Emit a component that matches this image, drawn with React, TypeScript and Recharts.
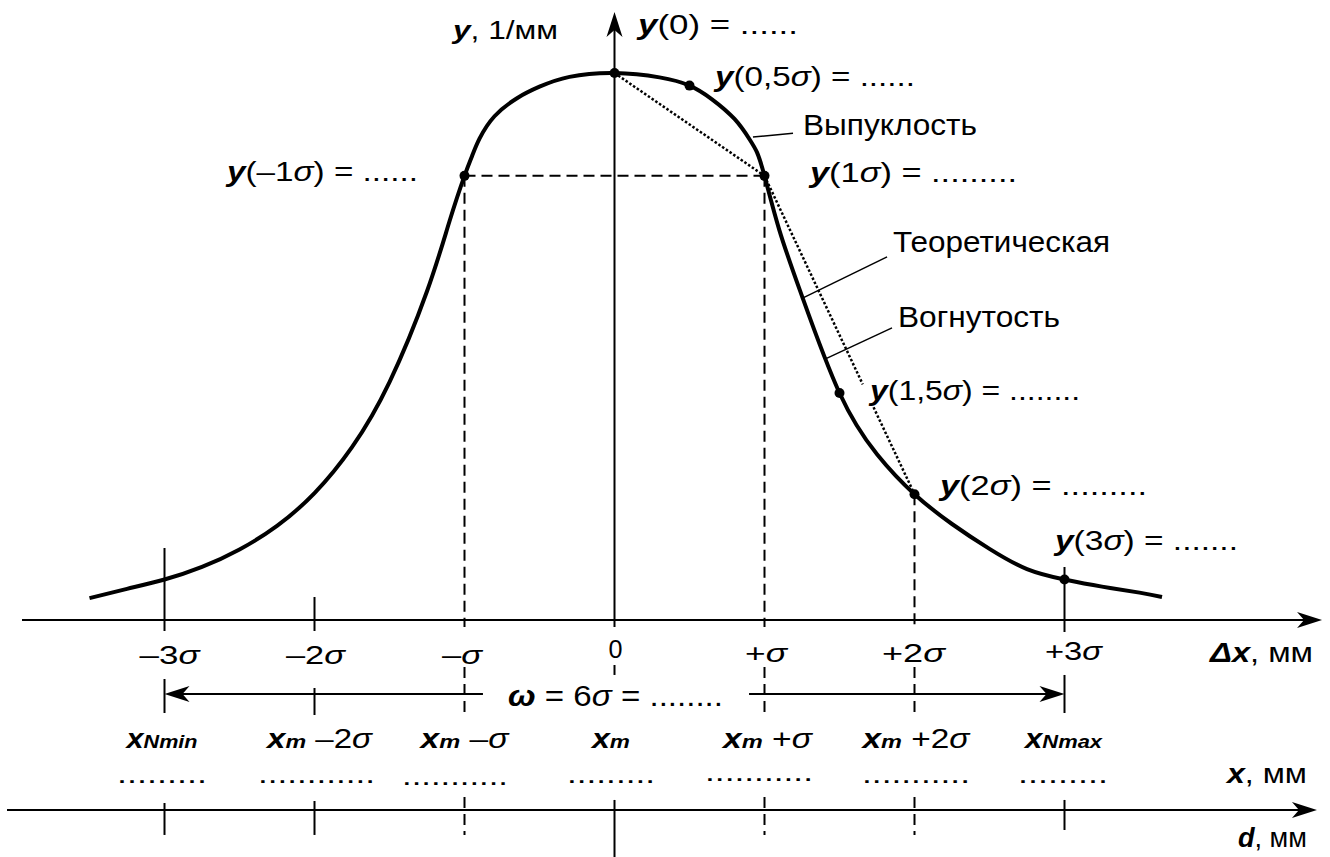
import React from "react";
import { ComposedChart, Line, Scatter, XAxis, YAxis, ReferenceLine, ReferenceDot } from "recharts";

// Δx, in units of σ
const SIGMA_POS = [
  -3.5, -3.25, -3, -2.75, -2.5, -2.25, -2, -1.75, -1.5, -1.25, -1.1, -1, -0.95, -0.9, -0.8, -0.65, -0.5, -0.3,
  0, 0.3, 0.5, 0.65, 0.8, 0.9, 0.95, 1, 1.1, 1.25, 1.5, 1.75, 2, 2.25, 2.5, 2.75, 3, 3.25, 3.5, 3.65,
];
// y relative to y(0)
const Y_REL = [
  0.04, 0.057, 0.074, 0.097, 0.129, 0.172, 0.232, 0.316, 0.435, 0.601, 0.729, 0.812, 0.848, 0.88, 0.921, 0.954, 0.975, 0.993,
  1.0, 0.992, 0.977, 0.952, 0.916, 0.879, 0.855, 0.812, 0.712, 0.592, 0.415, 0.303, 0.23, 0.1755, 0.13, 0.093, 0.074, 0.061, 0.05, 0.042,
];
const MARKED = [-1, 0, 0.5, 1, 1.5, 2, 3];
const TICK_POS = [-3, -2, -1, 0, 1, 2, 3];
const TICK_TEXT = ["–3σ", "–2σ", "–σ", "0", "+σ", "+2σ", "+3σ"];
const X_SUB = ["Nmin", "m", "m", "m", "m", "m", "Nmax"];
const X_TAIL = ["", " –2σ", " –σ", "", " +σ", " +2σ", ""];
const DOTS = [9, 12, 11, 9, 11, 11, 9];

const X_DOMAIN = [-4.0967, 4.77];
const Y_DOMAIN = [-0.4333, 1.1335];
const FONT = "Arial, 'Liberation Sans', Helvetica, sans-serif";

const curve = SIGMA_POS.map((s, i) => ({ s, v: Y_REL[i] }));
const yAt = (s: number) => Y_REL[SIGMA_POS.indexOf(s)];
const marks = MARKED.map((s) => ({ s, v: yAt(s) }));

function sig(str: string) {
  const parts = str.split("σ");
  return parts.map((p, i) => (
    <React.Fragment key={i}>
      {p}
      {i < parts.length - 1 && <tspan fontStyle="italic">σ</tspan>}
    </React.Fragment>
  ));
}

const yb = (
  <tspan fontWeight="bold" fontStyle="italic">
    y
  </tspan>
);

type TagOpt = { dx?: number; dy?: number; w?: number; size?: number; anchor?: "start" | "middle" | "end" };

function tag(key: string, x: number, y: number, o: TagOpt, content: React.ReactNode) {
  return (
    <ReferenceDot
      key={key}
      x={x}
      y={y}
      r={0}
      ifOverflow="visible"
      shape={(p: any) => (
        <text
          x={p.cx + (o.dx ?? 0)}
          y={p.cy + (o.dy ?? 0)}
          fontFamily={FONT}
          fontSize={o.size ?? 24}
          textAnchor={o.anchor ?? "start"}
          fill="#000"
          {...(o.w ? { textLength: o.w, lengthAdjust: "spacingAndGlyphs" } : {})}
        >
          {content}
        </text>
      )}
    />
  );
}

function seg(key: string, a: number[], b: number[], extra: any = {}) {
  return (
    <ReferenceLine
      key={key}
      segment={[
        { x: a[0], y: a[1] },
        { x: b[0], y: b[1] },
      ]}
      stroke="#000"
      strokeWidth={2}
      ifOverflow="visible"
      {...extra}
    />
  );
}

const arrowShape = (p: any) => {
  const { x1, y1, x2, y2 } = p;
  const a = Math.atan2(y2 - y1, x2 - x1);
  const c = Math.cos(a);
  const s = Math.sin(a);
  const pt = (u: number, w: number) => `${x2 + u * c - w * s},${y2 + u * s + w * c}`;
  return (
    <g>
      <line x1={x1} y1={y1} x2={x2 - 6 * c} y2={y2 - 6 * s} stroke="#000" strokeWidth={2} />
      <path d={`M${pt(0, 0)} L${pt(-25, -8)} L${pt(-18, 0)} L${pt(-25, 8)} Z`} fill="#000" />
    </g>
  );
};

const dash = { strokeDasharray: "11 6" };
const dotted = { strokeDasharray: "2.5 2", strokeWidth: 2.5 };

export default function App() {
  const y1 = yAt(1);
  const y2 = yAt(2);
  const lerp = (t: number) => [1 + t, y1 + (y2 - y1) * t];

  return (
    <div style={{ position: "absolute", left: 0, top: 0, width: 1330, height: 857, background: "#fff" }}>
      <ComposedChart width={1330} height={857} data={curve} margin={{ top: 0, right: 0, bottom: 0, left: 0 }}>
        <XAxis type="number" dataKey="s" domain={X_DOMAIN} hide allowDataOverflow />
        <YAxis type="number" domain={Y_DOMAIN} hide allowDataOverflow />

        {/* dashed guides */}
        {[-1, 1, 2].map((x) => seg(`dv${x}a`, [x, yAt(x)], [x, -0.0128], dash))}
        {[-1, 1, 2].map((x) => seg(`dv${x}b`, [x, -0.0859], [x, -0.168], dash))}
        {[-1, 1, 2].map((x) => seg(`dv${x}c`, [x, -0.3236], [x, -0.393], dash))}
        {seg("d0", [0, -0.0823], [0, -0.1005])}
        {seg("dh", [-1, y1], [1, y1], dash)}

        {/* chords */}
        {seg("ch1", [0, yAt(0)], [1, y1], dotted)}
        {seg("ch2", [1, y1], lerp(0.655), dotted)}
        {seg("ch3", lerp(0.727), [2, y2], dotted)}

        {/* axes */}
        {seg("ax", [-3.95, 0], [4.717, 0], { shape: arrowShape })}
        {seg("ay", [0, -0.0128], [0, 1.1115], { shape: arrowShape })}
        {seg("ad", [-4.05, -0.3474], [4.683, -0.3474], { shape: arrowShape })}
        {seg("wl", [-0.877, -0.1353], [-3, -0.1353], { shape: arrowShape })}
        {seg("wr", [0.897, -0.1353], [3, -0.1353], { shape: arrowShape })}

        {/* ticks */}
        {seg("t1", [-3, 0.1316], [-3, -0.0201])}
        {seg("t2", [-2, 0.042], [-2, -0.0201])}
        {seg("t3", [3, 0.0969], [3, -0.022])}
        {seg("w1", [-3, -0.1079], [-3, -0.17])}
        {seg("w2", [-2, -0.1243], [-2, -0.1737])}
        {seg("w3", [3, -0.1005], [3, -0.17])}
        {seg("b1", [-3, -0.3346], [-3, -0.393])}
        {seg("b2", [-2, -0.3309], [-2, -0.393])}
        {seg("b3", [0, -0.329], [0, -0.4333])}
        {seg("b4", [3, -0.329], [3, -0.3839])}

        {/* leaders */}
        {seg("l1", [1.19, 0.89], [0.923, 0.883], { strokeWidth: 1.5 })}
        {seg("l2", [1.817, 0.664], [1.257, 0.589], { strokeWidth: 1.5 })}
        {seg("l3", [1.85, 0.534], [1.403, 0.477], { strokeWidth: 1.5 })}

        <Line dataKey="v" type="natural" stroke="#000" strokeWidth={4} dot={false} activeDot={false} isAnimationActive={false} />
        <Scatter
          data={marks}
          dataKey="v"
          isAnimationActive={false}
          shape={(p: any) => <circle cx={p.cx} cy={p.cy} r={5} fill="#000" />}
        />

        {/* point labels */}
        {tag("ly", 0, 1, { dx: -56.5, dy: -34, anchor: "end", size: 26, w: 105 }, <>{yb}, 1/мм</>)}
        {tag("y0", 0, yAt(0), { dx: 23.5, dy: -39, size: 27, w: 160 }, <>{yb}(0) = ......</>)}
        {tag("y05", 0.5, yAt(0.5), { dx: 25.5, dy: 0, size: 27, w: 200 }, <>{yb}{sig("(0,5σ) = ......")}</>)}
        {tag("y1", 1, y1, { dx: 45.5, dy: 6, size: 28, w: 207 }, <>{yb}{sig("(1σ) = .........")}</>)}
        {tag("ym1", -1, y1, { dx: -46.5, dy: 5, size: 28, w: 191, anchor: "end" }, <>{yb}{sig("(–1σ) = ......")}</>)}
        {tag("y15", 1.5, yAt(1.5), { dx: 30.5, dy: 7, size: 28, w: 210 }, <>{yb}{sig("(1,5σ) = ........")}</>)}
        {tag("y2", 2, y2, { dx: 25.5, dy: 1, size: 28, w: 207 }, <>{yb}{sig("(2σ) = .........")}</>)}
        {tag("y3", 3, yAt(3), { dx: -9.5, dy: -29.5, size: 28, w: 183 }, <>{yb}{sig("(3σ) = .......")}</>)}

        {tag("n1", 1.19, 0.89, { dx: 10, dy: 2, size: 30, w: 174 }, "Выпуклость")}
        {tag("n2", 1.817, 0.664, { dx: 6, dy: -5, size: 30, w: 217 }, "Теоретическая")}
        {tag("n3", 1.85, 0.534, { dx: 6, dy: -1, size: 30, w: 162 }, "Вогнутость")}

        {/* axis rows */}
        {TICK_POS.map((x, i) =>
          tag(
            `tk${i}`,
            x,
            0,
            {
              dx: [5, 1, -2.5, 1, 1.5, -1, 9][i],
              dy: [44, 44, 44, 38, 42, 42, 40][i],
              anchor: "middle",
              size: 25,
              w: [60, 59, 40, 14, 42, 63, 57][i],
            },
            sig(TICK_TEXT[i])
          )
        )}
        {tag("dxl", 4.717, 0, { dx: -9, dy: 42, anchor: "end", size: 27, w: 103 }, (
          <>
            <tspan fontWeight="bold" fontStyle="italic">Δx</tspan>, мм
          </>
        ))}
        {tag("om", 0, 0, { dx: -106.5, dy: 86, size: 29, w: 215 }, (
          <>
            <tspan fontWeight="bold" fontStyle="italic">ω</tspan>
            {sig(" = 6σ = ........")}
          </>
        ))}
        {TICK_POS.map((x, i) =>
          tag(
            `xr${i}`,
            x,
            0,
            { dx: [-2.5, 5, 0, -3.5, 3, 1.5, -1][i], dy: 128, anchor: "middle", size: 27, w: [71, 105, 88, 38, 89, 107, 77][i] },
            <>
              <tspan fontWeight="bold" fontStyle="italic">x</tspan>
              <tspan fontWeight="bold" fontStyle="italic" fontSize={19}>
                {X_SUB[i]}
              </tspan>
              {sig(X_TAIL[i])}
            </>
          )
        )}
        {TICK_POS.map((x, i) =>
          tag(
            `dt${i}`,
            x,
            0,
            {
              dx: [-2.5, 2, -9.5, -3.5, -5.5, 1.5, -1.5][i],
              dy: [163, 163, 165, 163, 161, 163, 163][i],
              anchor: "middle",
              size: 26,
              w: [90, 117, 106, 88, 108, 108, 90][i],
            },
            ".".repeat(DOTS[i])
          )
        )}
        {tag("xl", 4.683, -0.3474, { dx: -10, dy: -27, anchor: "end", size: 27, w: 80 }, (
          <>
            <tspan fontWeight="bold" fontStyle="italic">x</tspan>, мм
          </>
        ))}
        {tag("dl", 4.683, -0.3474, { dx: -10, dy: 37, anchor: "end", size: 27, w: 69 }, (
          <>
            <tspan fontWeight="bold" fontStyle="italic">d</tspan>, мм
          </>
        ))}
      </ComposedChart>
    </div>
  );
}
